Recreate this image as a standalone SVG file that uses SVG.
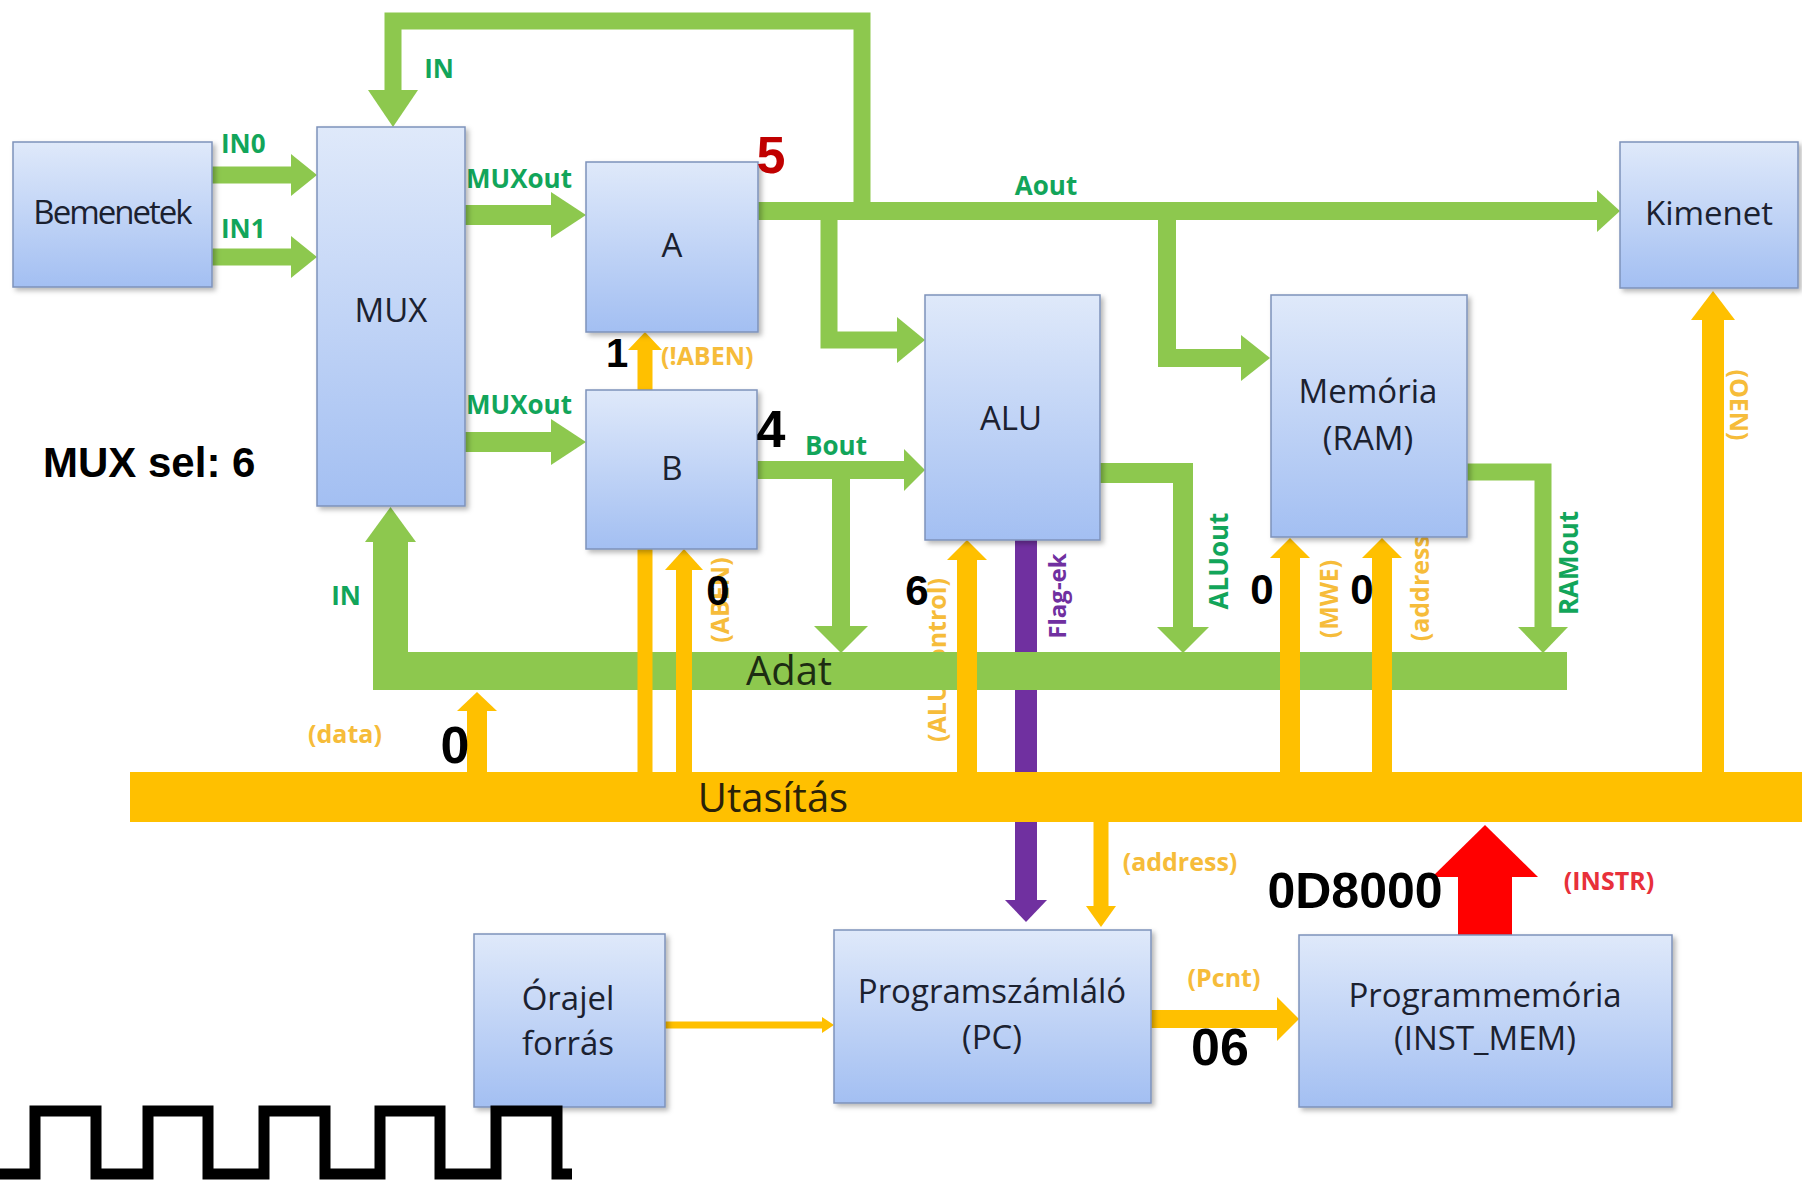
<svg xmlns="http://www.w3.org/2000/svg" width="1802" height="1182" viewBox="0 0 1802 1182">
<defs>
  <linearGradient id="nodeFill" x1="0" y1="0" x2="0" y2="1">
    <stop offset="0" stop-color="#DFE9FA"/>
    <stop offset="1" stop-color="#A3BFF2"/>
  </linearGradient>
  <filter id="shadow" x="-10%" y="-10%" width="130%" height="130%">
    <feDropShadow dx="3" dy="3" stdDeviation="2.5" flood-color="#000000" flood-opacity="0.28"/>
  </filter>
</defs>
<style>
  .node rect { fill:url(#nodeFill); stroke:#7E92BA; stroke-width:1.5; filter:url(#shadow); }
  .ntext { font-family:"Open Sans","DejaVu Sans",sans-serif; font-size:33px; fill:#1B2130; text-anchor:middle; }
  .g { fill:none; stroke:#8DC84E; stroke-linejoin:miter; stroke-linecap:butt; }
  .gf { fill:#8DC84E; }
  .o { fill:none; stroke:#FFC000; stroke-linecap:butt; }
  .of { fill:#FFC000; }
  .p { fill:none; stroke:#7030A0; }
  .pf { fill:#7030A0; }
  .rf { fill:#FF0000; }
  .glab { font-family:"Open Sans","DejaVu Sans",sans-serif; font-weight:700; font-size:26px; fill:#12A55A; }
  .olab { font-family:"Open Sans","DejaVu Sans",sans-serif; font-weight:700; font-size:25px; fill:#F6BC3A; }
  .plab { font-family:"Open Sans","DejaVu Sans",sans-serif; font-weight:700; font-size:24px; fill:#7030A0; }
  .rlab { font-family:"Open Sans","DejaVu Sans",sans-serif; font-weight:700; font-size:25px; fill:#E8303A; }
  .buslab { font-family:"Open Sans","DejaVu Sans",sans-serif; font-size:40px; text-anchor:middle; }
  .num { font-family:"Liberation Sans",Arial,sans-serif; font-weight:700; fill:#000000; text-anchor:middle; }
  .start { text-anchor:start; }
  .red { fill:#C00000; }
</style>
<rect x="0" y="0" width="1802" height="1182" fill="#FFFFFF"/>

<g id="connectors">
  <!-- purple flags (behind buses) -->
  <line class="p" x1="1026" y1="540" x2="1026" y2="902" stroke-width="22"/>
  <polygon class="pf" points="1005,900 1047,900 1026,922"/>
  <text class="plab" transform="translate(1057,596) rotate(-90)" x="0" y="9" text-anchor="middle">Flag-ek</text>

  <!-- ALU control label (behind data bus) -->
  <text class="olab" transform="translate(937,660) rotate(-90)" x="0" y="9" text-anchor="middle">(ALU control)</text>

  <!-- green: top loop -->
  <polyline class="g" points="862,220 862,21 393,21 393,92" stroke-width="17"/>
  <polygon class="gf" points="368,90 418,90 393,127"/>
  <text class="glab" x="439" y="78" text-anchor="middle">IN</text>

  <!-- Aout -->
  <line class="g" x1="758" y1="211" x2="1598" y2="211" stroke-width="18"/>
  <polygon class="gf" points="1597,190 1597,232 1620,211"/>
  <text class="glab" x="1046" y="195" text-anchor="middle">Aout</text>
  <polyline class="g" points="829,211 829,340 898,340" stroke-width="17"/>
  <polygon class="gf" points="897,317 897,363 925,340"/>
  <polyline class="g" points="1167,211 1167,358 1242,358" stroke-width="18"/>
  <polygon class="gf" points="1241,335 1241,381 1270,358"/>

  <!-- IN0 / IN1 -->
  <line class="g" x1="212" y1="175" x2="292" y2="175" stroke-width="17"/>
  <polygon class="gf" points="291,154 291,196 317,175"/>
  <text class="glab" x="221" y="153">IN0</text>
  <line class="g" x1="212" y1="257" x2="292" y2="257" stroke-width="17"/>
  <polygon class="gf" points="291,236 291,278 317,257"/>
  <text class="glab" x="221" y="238">IN1</text>

  <!-- MUXout -->
  <line class="g" x1="465" y1="215" x2="552" y2="215" stroke-width="20"/>
  <polygon class="gf" points="551,192 551,238 586,215"/>
  <text class="glab" x="466" y="188">MUXout</text>
  <line class="g" x1="465" y1="442" x2="552" y2="442" stroke-width="20"/>
  <polygon class="gf" points="551,419 551,465 586,442"/>
  <text class="glab" x="466" y="414">MUXout</text>

  <!-- Bout -->
  <line class="g" x1="757" y1="470" x2="905" y2="470" stroke-width="18"/>
  <polygon class="gf" points="904,449 904,491 925,470"/>
  <text class="glab" x="836" y="455" text-anchor="middle">Bout</text>
  <line class="g" x1="841" y1="470" x2="841" y2="627" stroke-width="18"/>
  <polygon class="gf" points="814,626 868,626 841,653"/>

  <!-- ALUout -->
  <polyline class="g" points="1100,473 1183,473 1183,628" stroke-width="20"/>
  <polygon class="gf" points="1157,627 1209,627 1183,653"/>
  <text class="glab" transform="translate(1219,561) rotate(-90)" x="0" y="9" text-anchor="middle">ALUout</text>

  <!-- RAMout -->
  <polyline class="g" points="1467,472 1543,472 1543,628" stroke-width="17"/>
  <polygon class="gf" points="1518,627 1568,627 1543,653"/>
  <text class="glab" transform="translate(1569,563) rotate(-90)" x="0" y="9" text-anchor="middle">RAMout</text>

  <!-- Adat bus -->
  <rect class="gf" x="373" y="652" width="1194" height="38"/>
  <rect class="gf" x="373" y="540" width="35" height="150"/>
  <polygon class="gf" points="365,542 416,542 390.5,507"/>
  <text class="glab" x="346" y="605" text-anchor="middle">IN</text>
  <text class="buslab" x="789" y="685" fill="#1C2C12">Adat</text>

  <!-- Utasitas bus -->
  <rect class="of" x="130" y="772" width="1672" height="50"/>
  <text class="buslab" x="773" y="812" fill="#2A2208">Utasítás</text>

  <!-- orange control lines -->
  <line class="o" x1="477" y1="774" x2="477" y2="708" stroke-width="20"/>
  <polygon class="of" points="457,711 497,711 477,692"/>
  <text class="olab" x="345" y="743" text-anchor="middle">(data)</text>

  <line class="o" x1="645" y1="774" x2="645" y2="348" stroke-width="15"/>
  <polygon class="of" points="628,350 662,350 645,332"/>
  <text class="olab" x="661" y="365">(!ABEN)</text>

  <line class="o" x1="684" y1="774" x2="684" y2="568" stroke-width="16"/>
  <polygon class="of" points="665,570 703,570 684,549"/>
  <text class="olab" transform="translate(720,600) rotate(-90)" x="0" y="9" text-anchor="middle">(ABEN)</text>

  <line class="o" x1="967" y1="774" x2="967" y2="558" stroke-width="20"/>
  <polygon class="of" points="947,560 987,560 967,540"/>

  <line class="o" x1="1290" y1="774" x2="1290" y2="556" stroke-width="20"/>
  <polygon class="of" points="1270,558 1310,558 1290,538"/>
  <text class="olab" transform="translate(1329,599) rotate(-90)" x="0" y="9" text-anchor="middle">(MWE)</text>

  <line class="o" x1="1382" y1="774" x2="1382" y2="556" stroke-width="20"/>
  <polygon class="of" points="1362,558 1402,558 1382,538"/>
  <text class="olab" transform="translate(1420,584) rotate(-90)" x="0" y="9" text-anchor="middle">(address)</text>

  <line class="o" x1="1713" y1="774" x2="1713" y2="318" stroke-width="22"/>
  <polygon class="of" points="1691,320 1735,320 1713,291"/>
  <text class="olab" transform="translate(1739,405) rotate(90)" x="0" y="9" text-anchor="middle">(OEN)</text>

  <line class="o" x1="1101" y1="820" x2="1101" y2="907" stroke-width="15"/>
  <polygon class="of" points="1086,906 1116,906 1101,927"/>
  <text class="olab" x="1180" y="871" text-anchor="middle">(address)</text>

  <line class="o" x1="665" y1="1025" x2="824" y2="1025" stroke-width="7"/>
  <polygon class="of" points="822,1017 822,1033 834,1025"/>

  <line class="o" x1="1151" y1="1019" x2="1278" y2="1019" stroke-width="18"/>
  <polygon class="of" points="1277,997 1277,1041 1299,1019"/>
  <text class="olab" x="1224" y="987" text-anchor="middle">(Pcnt)</text>

  <!-- INSTR -->
  <rect class="rf" x="1458" y="875" width="54" height="60"/>
  <polygon class="rf" points="1432,877 1538,877 1485,825"/>
  <text class="rlab" x="1609" y="890" text-anchor="middle">(INSTR)</text>
</g>

<g id="node-bemenetek" class="node">
  <rect x="13" y="142" width="199" height="145"/>
  <text class="ntext" x="112" y="224" letter-spacing="-2">Bemenetek</text>
</g>
<g id="node-mux" class="node">
  <rect x="317" y="127" width="148" height="379"/>
  <text class="ntext" x="391" y="322">MUX</text>
</g>
<g id="node-a" class="node">
  <rect x="586" y="162" width="172" height="170"/>
  <text class="ntext" x="672" y="257">A</text>
</g>
<g id="node-b" class="node">
  <rect x="586" y="390" width="171" height="159"/>
  <text class="ntext" x="672" y="480">B</text>
</g>
<g id="node-alu" class="node">
  <rect x="925" y="295" width="175" height="245"/>
  <text class="ntext" x="1011" y="430">ALU</text>
</g>
<g id="node-ram" class="node">
  <rect x="1271" y="295" width="196" height="242"/>
  <text class="ntext" x="1368" y="403">Memória</text>
  <text class="ntext" x="1368" y="450">(RAM)</text>
</g>
<g id="node-kimenet" class="node">
  <rect x="1620" y="142" width="178" height="146"/>
  <text class="ntext" x="1709" y="225">Kimenet</text>
</g>
<g id="node-orajel" class="node">
  <rect x="474" y="934" width="191" height="173"/>
  <text class="ntext" x="568" y="1010">Órajel</text>
  <text class="ntext" x="568" y="1055">forrás</text>
</g>
<g id="node-pc" class="node">
  <rect x="834" y="930" width="317" height="173"/>
  <text class="ntext" x="992" y="1003">Programszámláló</text>
  <text class="ntext" x="992" y="1049">(PC)</text>
</g>
<g id="node-instmem" class="node">
  <rect x="1299" y="935" width="373" height="172"/>
  <text class="ntext" x="1485" y="1007">Programmemória</text>
  <text class="ntext" x="1485" y="1050">(INST_MEM)</text>
</g>

<g id="clock-wave">
  <polyline points="0,1174 35,1174 35,1111 96,1111 96,1174 148,1174 148,1111 208,1111 208,1174 264,1174 264,1111 325,1111 325,1174 380,1174 380,1111 440,1111 440,1174 496,1174 496,1111 557,1111 557,1174 572,1174" fill="none" stroke="#000000" stroke-width="11" stroke-linejoin="miter"/>
</g>

<g id="values">
  <text class="num start" x="43" y="477" font-size="42">MUX sel: 6</text>
  <text class="num red" x="771" y="173" font-size="52">5</text>
  <text class="num" x="771" y="447" font-size="52">4</text>
  <text class="num" x="617" y="367" font-size="40">1</text>
  <text class="num" x="718" y="605" font-size="42">0</text>
  <text class="num" x="917" y="605" font-size="42">6</text>
  <text class="num" x="1262" y="604" font-size="42">0</text>
  <text class="num" x="1362" y="604" font-size="42">0</text>
  <text class="num" x="455" y="763" font-size="52">0</text>
  <text class="num" x="1355" y="908" font-size="50">0D8000</text>
  <text class="num" x="1220" y="1065" font-size="52">06</text>
</g>
</svg>
